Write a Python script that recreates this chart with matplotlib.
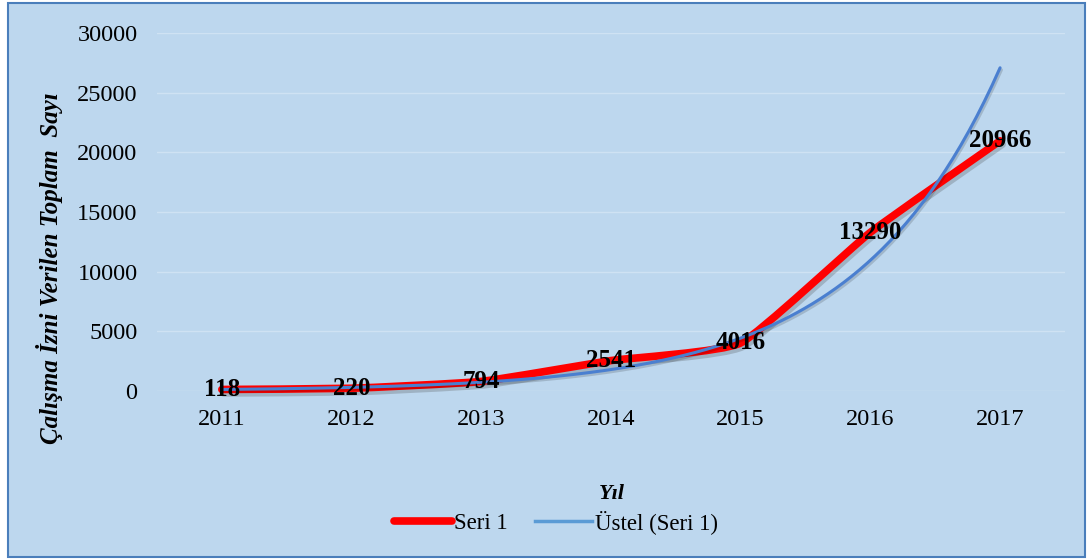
import numpy as np
import matplotlib.pyplot as plt
import matplotlib.patheffects as pe
from matplotlib.path import Path
from matplotlib.patches import PathPatch, Rectangle
from matplotlib.lines import Line2D

years = ["2011", "2012", "2013", "2014", "2015", "2016", "2017"]
izin = [118, 220, 794, 2541, 4016, 13290, 20966]

plt.rcParams['font.family'] = ['Liberation Serif', 'DejaVu Serif']

bg = '#bdd7ee'
fig = plt.figure(figsize=(10.9, 5.6), dpi=100)
fig.patch.set_facecolor('white')
# mavi cerceve
fig.patches.append(Rectangle((8 / 1090, 3 / 560), 1077 / 1090, 554 / 560,
                             transform=fig.transFigure, facecolor=bg,
                             edgecolor='#4a7ebb', linewidth=1.5, zorder=-5))

ax = fig.add_axes([0.144, 0.302, 0.833, 0.639])
ax.set_facecolor('none')
x = np.arange(len(years))
y = np.array(izin, dtype=float)

# hafif yumusatilmis cizgi (Catmull-Rom -> Bezier, dusuk gerilim)
k = 1 / 14
verts = [(x[0], y[0])]
codes = [Path.MOVETO]
for i in range(len(x) - 1):
    p0 = np.array([x[max(i - 1, 0)], y[max(i - 1, 0)]])
    p1 = np.array([x[i], y[i]])
    p2 = np.array([x[i + 1], y[i + 1]])
    p3 = np.array([x[min(i + 2, len(x) - 1)], y[min(i + 2, len(x) - 1)]])
    c1 = p1 + (p2 - p0) * k
    c2 = p2 - (p3 - p1) * k
    verts += [tuple(c1), tuple(c2), tuple(p2)]
    codes += [Path.CURVE4] * 3
shadow = [pe.SimpleLineShadow(offset=(1.5, -2.5), alpha=0.25, shadow_color='#444444'), pe.Normal()]
seri = PathPatch(Path(verts, codes), facecolor='none', edgecolor='#ff0000',
                 linewidth=5.5, capstyle='round', joinstyle='round', zorder=3,
                 clip_on=False)
seri.set_path_effects(shadow)
ax.add_patch(seri)

# ustel egilim cizgisi
b, a = np.polyfit(x + 1, np.log(y), 1)
xt = np.linspace(1, len(x), 200)
ax.plot(xt - 1, np.exp(a + b * xt), color='#4a7fd0', linewidth=2.2,
        solid_capstyle='round', zorder=4, clip_on=False,
        path_effects=[pe.SimpleLineShadow(offset=(1, -1.5), alpha=0.15), pe.Normal()])

for xi, yi in zip(x, izin):
    ax.text(xi, yi, str(yi), ha='center', va='center', fontsize=18,
            fontweight='bold', color='black', zorder=5)

ax.set_xlim(-0.5, len(x) - 0.5)
ax.set_ylim(0, 30000)
ax.set_yticks(np.arange(0, 30001, 5000))
ax.set_xticks(x)
ax.set_xticklabels(years)
ax.tick_params(axis='both', length=0, labelsize=17.5)
ax.tick_params(axis='x', pad=13)
ax.tick_params(axis='y', pad=14)
ax.grid(axis='y', color='#cfe2f3', linewidth=1)
ax.set_axisbelow(True)
for s in ax.spines.values():
    s.set_visible(False)

fig.text(0.045, 0.521, 'Çalışma İzni Verilen Toplam  Sayı', rotation=90,
         ha='center', va='center', fontsize=18, fontweight='bold', style='italic')
fig.text(0.561, 0.118, 'Yıl', ha='center', va='center', fontsize=16,
         fontweight='bold', style='italic')

handles = [Line2D([], [], color='#ff0000', linewidth=5.5, solid_capstyle='round'),
           Line2D([], [], color='#5b9bd5', linewidth=2.5)]
fig.legend(handles, ['Seri 1', 'Üstel (Seri 1)'], loc='center', ncol=2,
           bbox_to_anchor=(0.51, 0.068), frameon=False, fontsize=16.5,
           handlelength=2.5, handletextpad=0.1, columnspacing=1.2)

fig.savefig('out.png', dpi=100, facecolor='white')
